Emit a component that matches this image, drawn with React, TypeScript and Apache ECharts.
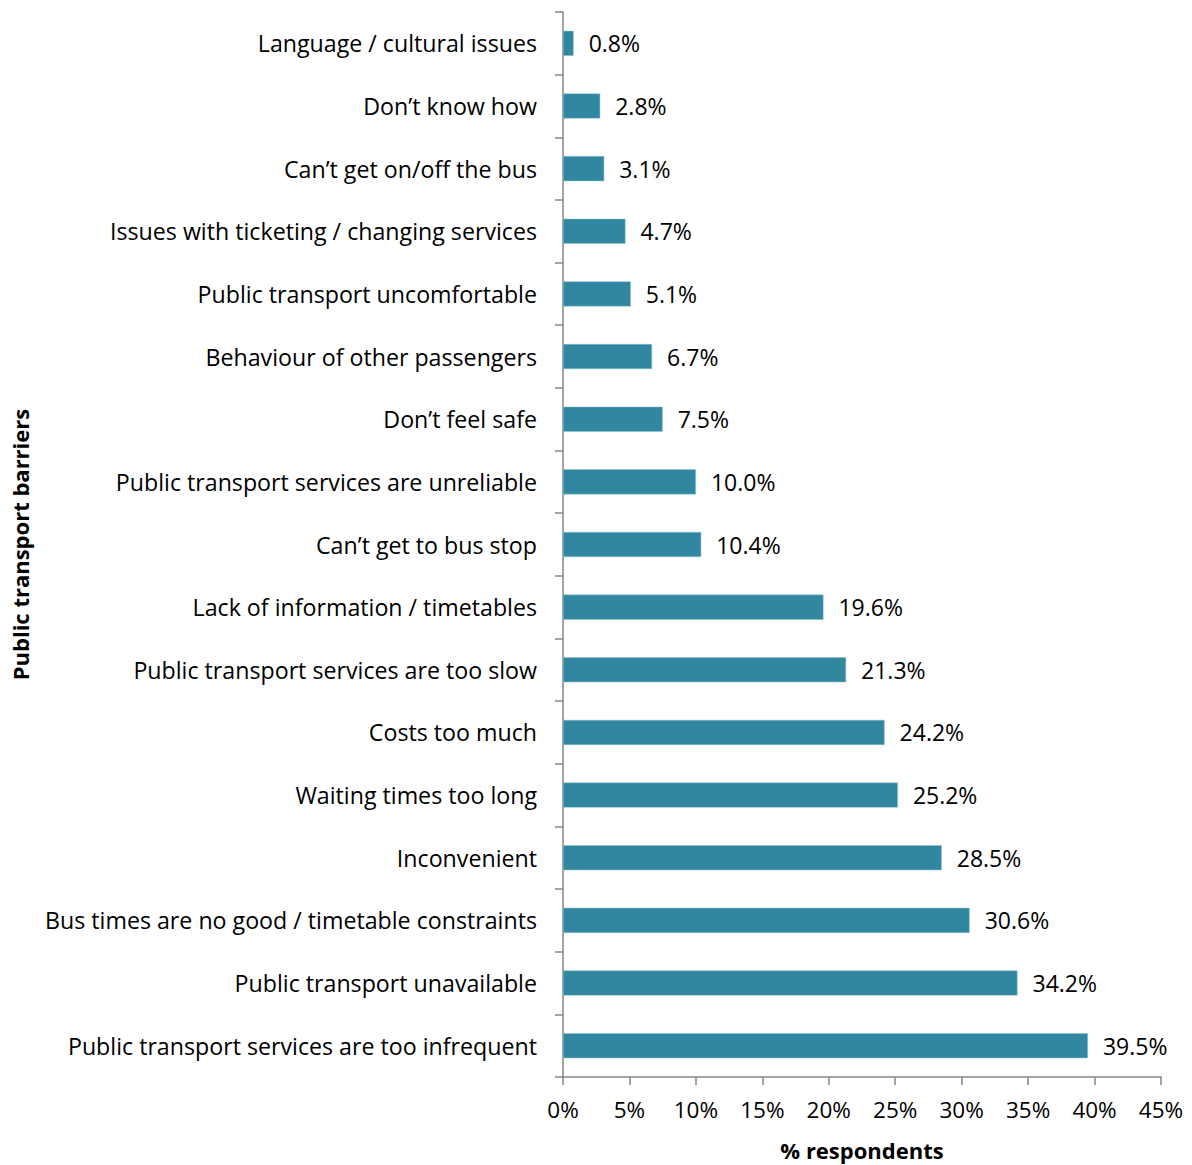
import React, { useEffect, useRef } from "react";
import * as echarts from "echarts";

const categories = [
  "Language / cultural issues",
  "Don\u2019t know how",
  "Can\u2019t get on/off the bus",
  "Issues with ticketing / changing services",
  "Public transport uncomfortable",
  "Behaviour of other passengers",
  "Don\u2019t feel safe",
  "Public transport services are unreliable",
  "Can\u2019t get to bus stop",
  "Lack of information / timetables",
  "Public transport services are too slow",
  "Costs too much",
  "Waiting times too long",
  "Inconvenient",
  "Bus times are no good / timetable constraints",
  "Public transport unavailable",
  "Public transport services are too infrequent",
];
const values = [0.8, 2.8, 3.1, 4.7, 5.1, 6.7, 7.5, 10.0, 10.4, 19.6, 21.3, 24.2, 25.2, 28.5, 30.6, 34.2, 39.5];

const FONT = "Open Sans";

export default function App() {
  const ref = useRef<HTMLDivElement>(null);
  useEffect(() => {
    document.body.style.margin = "0";
    const chart = echarts.init(ref.current!, null, { renderer: "svg" });
    chart.setOption({
      animation: false,
      backgroundColor: "#ffffff",
      grid: { left: 563, right: 31, top: 12, bottom: 88, containLabel: false, outerBoundsMode: "none" },
      xAxis: {
        type: "value",
        min: 0,
        max: 45,
        interval: 5,
        name: "% respondents",
        nameLocation: "middle",
        nameGap: 62,
        nameTextStyle: { fontFamily: FONT, fontSize: 22, fontWeight: "bold", color: "#000" },
        axisLine: { show: true, lineStyle: { color: "#868686", width: 1.5 } },
        axisTick: { show: true, length: 8, lineStyle: { color: "#868686", width: 1.5 } },
        axisLabel: { formatter: "{value}%", fontFamily: FONT, fontSize: 22.5, color: "#000", margin: 21 },
        splitLine: { show: false },
      },
      yAxis: {
        type: "category",
        inverse: true,
        data: categories,
        name: "Public transport barriers",
        nameLocation: "middle",
        nameGap: 532,
        nameRotate: 90,
        nameTextStyle: { fontFamily: FONT, fontSize: 22, fontWeight: "bold", color: "#000" },
        axisLine: { show: true, lineStyle: { color: "#868686", width: 1.5 } },
        axisTick: { show: true, length: 8, alignWithLabel: false, lineStyle: { color: "#868686", width: 1.5 } },
        axisLabel: { fontFamily: FONT, fontSize: 23.2, color: "#000", margin: 26 },
      },
      series: [
        {
          type: "bar",
          data: values,
          barWidth: "40%",
          itemStyle: { color: "#31879f", borderColor: "#8ec3d2", borderWidth: 0.5 },
          label: {
            show: true,
            position: "right",
            distance: 15,
            formatter: (p: any) => p.value.toFixed(1) + "%",
            fontFamily: FONT,
            fontSize: 23,
            color: "#000",
          },
        },
      ],
    });
    return () => chart.dispose();
  }, []);
  return <div ref={ref} style={{ width: 1192, height: 1165 }} />;
}
